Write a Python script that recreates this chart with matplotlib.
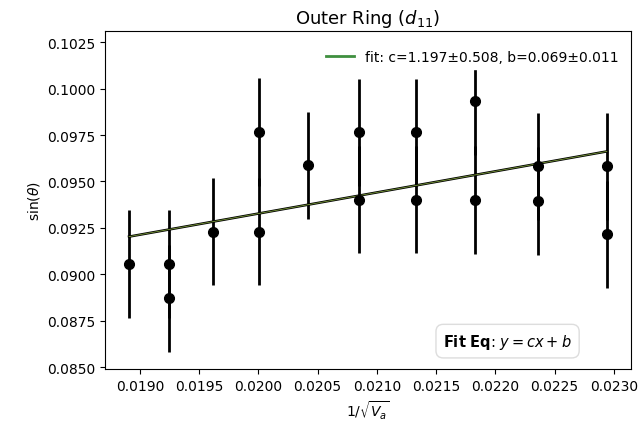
import matplotlib
matplotlib.use("Agg")
import matplotlib.pyplot as plt
import numpy as np

# x positions (1/sqrt(Va)) and measured sin(theta), two rings per voltage where visible
x_vals = [0.018908, 0.019244, 0.019244, 0.019613, 0.020008, 0.020008,
          0.020420, 0.020849, 0.020849, 0.021328, 0.021328, 0.021824,
          0.021824, 0.022361, 0.022361, 0.022941, 0.022941]
sin_vals = [0.09057, 0.09057, 0.08870, 0.09230, 0.09766, 0.09230,
            0.09586, 0.09764, 0.09402, 0.09764, 0.09402, 0.09933,
            0.09400, 0.09581, 0.09395, 0.09581, 0.09215]
sin_err = [0.0029] * len(x_vals)

# fitted line as drawn in the picture
fit_slope = 1.138
fit_intercept = 0.07051
fit_label = "fit: c=1.197\u00b10.508, b=0.069\u00b10.011"

x_ticks = [0.0190, 0.0195, 0.0200, 0.0205, 0.0210, 0.0215, 0.0220, 0.0225, 0.0230]
y_ticks = [0.0850, 0.0875, 0.0900, 0.0925, 0.0950, 0.0975, 0.1000, 0.1025]

fig = plt.figure(figsize=(6.41, 4.35), dpi=100)
ax = fig.add_axes([0.164, 0.149, 0.820, 0.777])

ax.errorbar(x_vals, sin_vals, yerr=sin_err, fmt='o', color='black',
            markersize=7, elinewidth=2, capsize=0)

xs = np.array([min(x_vals), max(x_vals)])
ax.plot(xs, fit_slope * xs + fit_intercept, color='black', linewidth=1.8)
ax.plot(xs, fit_slope * xs + fit_intercept, color='#7a9a3a', linewidth=0.6,
        label=fit_label)

ax.set_ylim(0.08489, 0.10309)
ax.set_xticks(x_ticks)
ax.set_xticklabels([f"{t:.4f}" for t in x_ticks])
ax.set_yticks(y_ticks)
ax.set_yticklabels([f"{t:.4f}" for t in y_ticks])
ax.tick_params(labelsize=10)

ax.set_title(r"Outer Ring ($d_{11}$)", fontsize=13)
ax.set_xlabel(r"$1/\sqrt{V_a}$", fontsize=10)
ax.set_ylabel(r"sin($\theta$)", fontsize=10)

# white legend box with no visible edge; it hides the top of one error bar
leg = ax.legend(loc='upper right', bbox_to_anchor=(1.0, 0.982), fontsize=10,
                frameon=True, framealpha=1.0, fancybox=False)
leg.get_frame().set_edgecolor('white')
for h in leg.legend_handles:
    h.set_color('#3f8f3f')
    h.set_linewidth(2)

ax.text(0.888, 0.083, r"$\bf{Fit\ Eq}$: $y = cx + b$", transform=ax.transAxes,
        ha='right', va='center', fontsize=10.5,
        bbox=dict(boxstyle='round', pad=0.5, facecolor='white', edgecolor='#dddddd'))

fig.savefig("out.png", dpi=100)
